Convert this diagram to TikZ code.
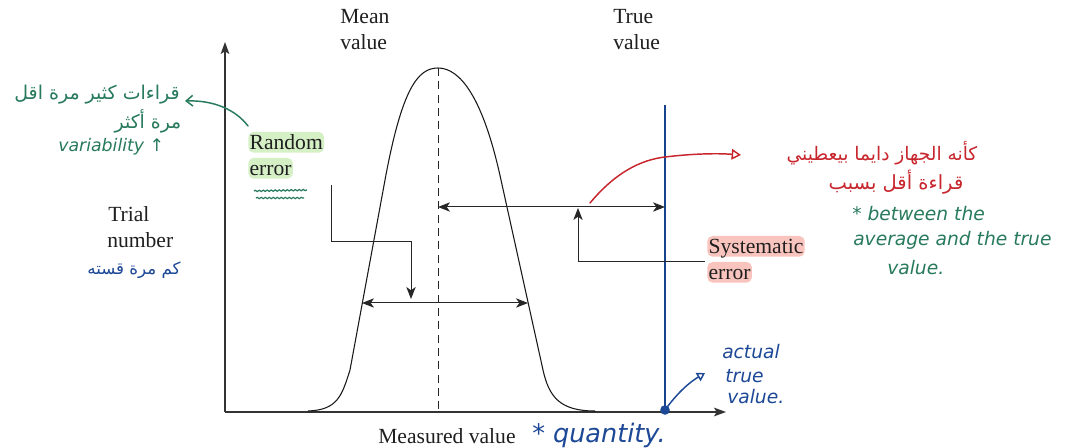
\documentclass[tikz,border=0pt]{standalone}
\usepackage{fontspec}
\usepackage{graphicx}
\setmainfont{Liberation Serif}
\newfontfamily\arabicfont[Script=Arabic]{DejaVu Sans}
\newfontfamily\handfont{DejaVu Sans}
\TeXXeTstate=1
\usetikzlibrary{arrows.meta,decorations.pathmorphing}
\definecolor{hgreen}{RGB}{40,122,92}
\definecolor{hred}{RGB}{200,38,45}
\definecolor{hblue}{RGB}{28,72,150}
\definecolor{trueblue}{RGB}{22,68,140}
\definecolor{hlgreen}{RGB}{214,240,198}
\definecolor{hlpink}{RGB}{250,196,190}
\newcommand{\fitw}[2]{\resizebox{#1}{!}{#2}}
\begin{document}
\begin{tikzpicture}[x=0.75pt,y=-0.75pt,
  lbl/.style={font=\fontsize{16.2}{21}\selectfont, inner sep=0pt, anchor=base west, text=black!88},
  hlg/.style={lbl, fill=hlgreen, rounded corners=4pt, inner xsep=1pt, inner ysep=1.5pt, text height=12pt, text depth=0.5pt},
  hlp/.style={lbl, fill=hlpink, rounded corners=4pt, inner xsep=1pt, inner ysep=1.5pt, text height=12pt, text depth=0.5pt},
  hand/.style={inner sep=0pt},
  hw/.style={inner sep=0pt, anchor=west, font=\handfont\itshape\fontsize{14}{17}\selectfont},
  axis/.style={line width=0.9pt, draw=black!80, -{Stealth[length=9pt,width=6.5pt,inset=2pt]}},
  conn/.style={line width=0.75pt, draw=black!85},
  arr/.style={-{Stealth[length=9pt,width=7pt,inset=2.5pt]}},
  dbl/.style={{Stealth[length=9pt,width=7pt,inset=2.5pt]}-{Stealth[length=9pt,width=7pt,inset=2.5pt]}},
  ink/.style={line width=1.1pt, line cap=round, line join=round}
]
\useasboundingbox (0,0) rectangle (1073,448);
\fill[white] (0,0) rectangle (1073,448);

% axes
\coordinate (O) at (225,412);
\coordinate (Ytop) at (225,42);
\coordinate (Xend) at (726,412);
\draw[axis] (O) -- (Ytop);
\draw[axis] (O) -- (Xend);

% bell curve
\draw[line width=0.8pt, black!90] (308,411) .. controls (338,410) and (342,395) .. (350,370)
  -- (385,180) .. controls (402,88) and (418,68) .. (438,68)
  .. controls (460,68) and (483,97) .. (501,180)
  -- (543,370) .. controls (549,397) and (560,411) .. (595,411);

% mean dashed line
\coordinate (peak) at (438,68);
\coordinate (meanbase) at (438,412);
\draw[conn, dash pattern=on 6pt off 4pt] (peak) -- (meanbase);

% true value line
\coordinate (truetop) at (665,105);
\coordinate (truebase) at (665,412);
\draw[trueblue, line width=2pt] (truetop) -- (truebase);

% systematic double arrow
\coordinate (sysL) at (438,207);
\coordinate (sysR) at (665,207);
\draw[conn, dbl] (sysL) -- (sysR);

% random double arrow
\coordinate (rndL) at (362,303);
\coordinate (rndR) at (528,303);
\draw[conn, dbl] (rndL) -- (rndR);

% random error connector
\coordinate (rs) at (331,185);
\coordinate (rk) at (411,242);
\coordinate (rt) at (411,299);
\draw[conn, arr] (rs) |- (rk) -- (rt);

% systematic error connector
\coordinate (ss) at (705,262);
\coordinate (st) at (578,208);
\draw[conn, arr] (ss) -| (st);

% printed labels
\node[lbl] (mean1) at (340,24) {Mean};
\node[lbl] (mean2) at (340,50) {value};
\node[lbl] (true1) at (613,24) {True};
\node[lbl] (true2) at (613,50) {value};
\node[lbl] (trial1) at (108,222) {Trial};
\node[lbl] (trial2) at (107,248) {number};
\node[hlg] (rnd1) at (248,150) {Random};
\node[hlg] (rnd2) at (248,176) {error};
\node[hlp] (sys1) at (707,254) {Systematic};
\node[hlp] (sys2) at (707,280) {error};
\node[lbl] (meas) at (378,443) {Measured value};

% green annotations (left)
\node[hand, text=hgreen] (gar1) at (97,95) {\fitw{124pt}{\arabicfont\beginR قراءات كثير مرة اقل\endR}};
\node[hand, text=hgreen] (gar2) at (148,121) {\fitw{50pt}{\arabicfont\beginR مرة أكثر\endR}};
\node[hw, text=hgreen, font=\handfont\itshape\fontsize{13}{16}\selectfont] (gvar) at (58,147) {variability ↑};
\coordinate (ga1) at (248,126);
\coordinate (ga2) at (185,101);
\draw[hgreen, ink, -{Straight Barb[length=5pt,width=8pt]}] (ga1) .. controls (236,110) and (214,100) .. (ga2);
\coordinate (u1a) at (254,191); \coordinate (u1b) at (307,190);
\coordinate (u2a) at (256,198); \coordinate (u2b) at (304,198);
\draw[hgreen, line width=0.9pt, decorate, decoration={snake, amplitude=0.5pt, segment length=3pt}] (u1a) -- (u1b);
\draw[hgreen, line width=0.9pt, decorate, decoration={snake, amplitude=0.5pt, segment length=3pt}] (u2a) -- (u2b);

% red annotation
\coordinate (ra1) at (590,203);
\coordinate (ra2) at (665,157);
\coordinate (ra3) at (741,155);
\draw[hred, ink, -{Triangle[open,length=7pt,width=8pt]}] (ra1) .. controls (615,173) and (640,160) .. (ra2) .. controls (690,154) and (715,153) .. (ra3);
\node[hand, text=hred] (red1) at (882,153) {\fitw{143pt}{\arabicfont\beginR كأنه الجهاز دايما بيعطيني\endR}};
\node[hand, text=hred] (red2) at (896,182) {\fitw{101pt}{\arabicfont\beginR قراءة أقل بسبب\endR}};

% green english right
\node[hw, text=hgreen] (gb1) at (852,214) {* between the};
\node[hw, text=hgreen] (gb2) at (853,240) {average and the true};
\node[hw, text=hgreen] (gb3) at (887,268) {value.};

% blue annotations
\node[hand, text=hblue] (bar) at (134,270) {\fitw{70pt}{\arabicfont\beginR كم مرة قسته\endR}};
\node[hw, text=hblue] (bt1) at (722,352) {actual};
\node[hw, text=hblue] (bt2) at (725,376) {true};
\node[hw, text=hblue] (bt3) at (727,397) {value.};
\node[hand, text=hblue, anchor=west] (bq) at (532,435) {\fitw{100pt}{\handfont\itshape * quantity.}};
\coordinate (dot) at (665,410);
\coordinate (ba2) at (705,373);
\draw[hblue, ink, -{Triangle[open,length=6pt,width=7pt]}] (dot) .. controls (678,392) and (690,382) .. (ba2);
\fill[hblue] (dot) circle (3.6pt);
\end{tikzpicture}
\end{document}
